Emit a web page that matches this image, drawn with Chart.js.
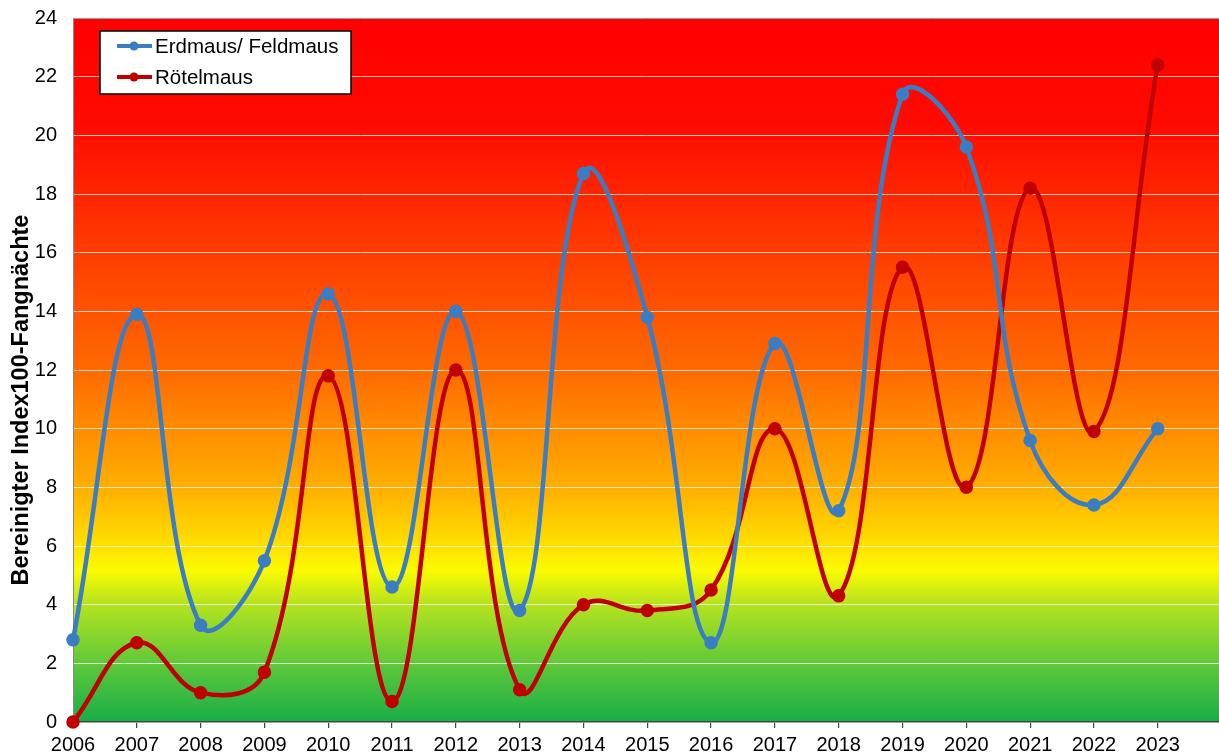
<!DOCTYPE html>
<html>
<head>
<meta charset="utf-8">
<script src="https://cdn.jsdelivr.net/npm/chart.js@4"></script>
<style>
  html, body { margin: 0; padding: 0; background: #fff; overflow: hidden; }
  #view { width: 1219px; height: 755px; position: relative; overflow: hidden; }
  #wrap { width: 1228px; height: 765px; position: absolute; left: 0; top: -10px; }
</style>
</head>
<body>
<div id="view"><div id="wrap"><canvas id="mausChart"></canvas></div></div>
<script>
const years = [2006, 2007, 2008, 2009, 2010, 2011, 2012, 2013, 2014, 2015, 2016, 2017, 2018, 2019, 2020, 2021, 2022, 2023];
const erdmaus = [2.8, 13.9, 3.3, 5.5, 14.6, 4.6, 14.0, 3.8, 18.7, 13.8, 2.7, 12.9, 7.2, 21.4, 19.6, 9.6, 7.4, 10.0];
const roetelmaus = [0, 2.7, 1.0, 1.7, 11.8, 0.7, 12.0, 1.1, 4.0, 3.8, 4.5, 10.0, 4.3, 15.5, 8.0, 18.2, 9.9, 22.4];
const yTicks = [0, 2, 4, 6, 8, 10, 12, 14, 16, 18, 20, 22, 24];
const yTitle = 'Bereinigter Index100-Fangnächte';

const FONT = 'Liberation Sans, Arial, sans-serif';
const BLUE = '#3a7dc2';
const RED = '#c00000';
const OFFSET_Y = 10; // canvas is shifted up by this much

function toPoints(vals) {
    return years.map((y, i) => ({ x: y, y: vals[i] }));
}

// red -> yellow -> green behind the plot
const bgGradient = {
    id: 'bgGradient',
    beforeDraw(chart) {
        const { ctx, chartArea: a } = chart;
        const g = ctx.createLinearGradient(0, a.top, 0, a.bottom);
        g.addColorStop(0.00, '#ff0000');
        g.addColorStop(0.15, '#ff0a00');
        g.addColorStop(0.50, '#ff6a00');
        g.addColorStop(0.67, '#ffb000');
        g.addColorStop(0.75, '#ffe000');
        g.addColorStop(0.785, '#fbfb00');
        g.addColorStop(0.83, '#b8e41e');
        g.addColorStop(0.92, '#5cc83a');
        g.addColorStop(1.00, '#18ad48');
        ctx.save();
        ctx.fillStyle = g;
        ctx.fillRect(a.left, a.top, a.right - a.left, a.bottom - a.top);
        ctx.restore();
    }
};

// legend box inside the plot + rotated axis title
const boxLegend = {
    id: 'boxLegend',
    afterDraw(chart) {
        const { ctx } = chart;
        const x = 100, y = 31 + OFFSET_Y, w = 251, h = 63;
        ctx.save();
        ctx.fillStyle = '#fff';
        ctx.fillRect(x, y, w, h);
        ctx.strokeStyle = '#000';
        ctx.lineWidth = 1.5;
        ctx.strokeRect(x, y, w, h);
        chart.data.datasets.forEach((ds, i) => {
            const ly = y + 15 + i * 31;
            ctx.strokeStyle = ds.borderColor;
            ctx.lineWidth = 4;
            ctx.beginPath();
            ctx.moveTo(117, ly);
            ctx.lineTo(152, ly);
            ctx.stroke();
            ctx.fillStyle = ds.borderColor;
            ctx.beginPath();
            ctx.arc(134, ly, 4.5, 0, Math.PI * 2);
            ctx.fill();
            ctx.fillStyle = '#000';
            ctx.font = '20.5px ' + FONT;
            ctx.textBaseline = 'middle';
            ctx.textAlign = 'left';
            ctx.fillText(ds.label, 155, ly + 1);
        });

        ctx.translate(22, 400 + OFFSET_Y);
        ctx.rotate(-Math.PI / 2);
        ctx.fillStyle = '#000';
        ctx.font = 'bold 23.5px ' + FONT;
        ctx.textAlign = 'center';
        ctx.textBaseline = 'middle';
        ctx.fillText(yTitle, 0, 0);
        ctx.restore();
    }
};

const ctx = document.getElementById('mausChart').getContext('2d');
const mausChart = new Chart(ctx, {
    type: 'line',
    data: {
        datasets: [
            {
                label: 'Erdmaus/ Feldmaus',
                data: toPoints(erdmaus),
                borderColor: BLUE,
                backgroundColor: BLUE,
                borderWidth: 4.5,
                pointRadius: 4.5,
                tension: 0.42,
                clip: false
            },
            {
                label: 'Rötelmaus',
                data: toPoints(roetelmaus),
                borderColor: RED,
                backgroundColor: RED,
                borderWidth: 4.5,
                pointRadius: 4.5,
                tension: 0.42,
                clip: false
            }
        ]
    },
    options: {
        responsive: true,
        maintainAspectRatio: false,
        animation: false,
        layout: { padding: { top: 8, right: 0, left: 0, bottom: 0 } },
        plugins: {
            legend: { display: false },
            tooltip: { enabled: false }
        },
        scales: {
            x: {
                type: 'linear',
                min: 2006,
                max: 2023.96,
                afterBuildTicks(scale) {
                    scale.ticks = years.map(v => ({ value: v }));
                },
                afterFit(scale) { scale.height = 33; },
                ticks: {
                    callback: v => String(v),
                    color: '#000',
                    font: { family: FONT, size: 20 },
                    padding: 5,
                    maxRotation: 0,
                    autoSkip: false
                },
                grid: {
                    drawOnChartArea: false,
                    drawTicks: true,
                    tickLength: 6,
                    color: '#444',
                    lineWidth: 1.2
                },
                border: { display: true, color: '#444', width: 1.5 }
            },
            y: {
                min: 0,
                max: 24,
                afterBuildTicks(scale) {
                    scale.ticks = yTicks.map(v => ({ value: v }));
                },
                afterFit(scale) { scale.width = 73; },
                ticks: {
                    color: '#000',
                    font: { family: FONT, size: 20 },
                    padding: 16
                },
                grid: {
                    drawTicks: false,
                    color: c => (c.tick && c.tick.value === 24 ? '#a0a0a0' : 'rgba(255,255,255,0.75)'),
                    lineWidth: 1
                },
                border: { display: true, color: '#8a8a8a', width: 1 }
            }
        }
    },
    plugins: [bgGradient, boxLegend]
});
</script>
</body>
</html>
